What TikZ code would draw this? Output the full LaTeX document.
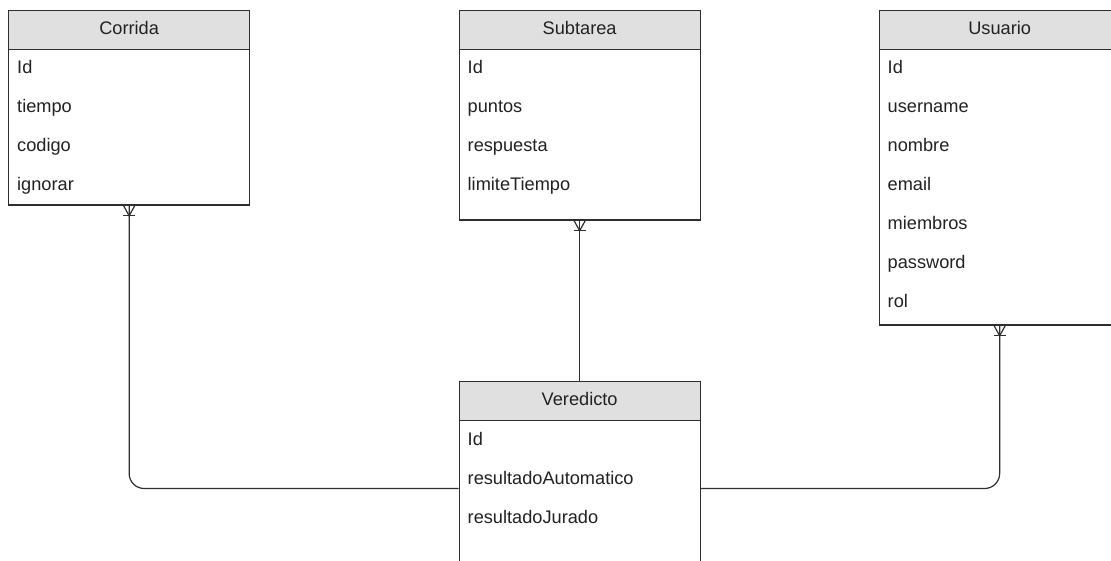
\documentclass[tikz,border=0pt]{standalone}
\usepackage{fontspec}
\setmainfont{Liberation Sans}
\usetikzlibrary{calc}
\definecolor{ink}{HTML}{2E2E2E}
\definecolor{headfill}{HTML}{E0E0E0}
\definecolor{txt}{HTML}{222222}
\newcommand\entfont{\fontsize{18.2}{21}\selectfont}
% crow's foot (one-to-many) just below an entity's bottom edge
\newcommand\crowfoot[1]{%
  \draw[ink, line width=1.2pt] ($(#1)+(-5.5,0)$) -- ($(#1)+(0,10)$) -- ($(#1)+(5.5,0)$);
  \draw[ink, line width=1.2pt] ($(#1)+(-6,10)$) -- ($(#1)+(6,10)$);}
\begin{document}
\begin{tikzpicture}[x=1pt,y=-1pt,
  body/.style={draw=ink, line width=1.3pt, fill=white, inner sep=0pt,
    anchor=north west, minimum width=241pt},
  head/.style={draw=ink, line width=1.3pt, fill=headfill, inner sep=0pt,
    anchor=north west, minimum width=241pt, minimum height=39pt},
  title/.style={font=\entfont, text=txt, anchor=base, inner sep=0pt},
  attr/.style={font=\entfont, text=txt, anchor=base west, inner sep=0pt},
  link/.style={draw=ink, line width=1.2pt, rounded corners=15pt}]
\useasboundingbox (0,0) rectangle (1111,561);
\clip (0,0) rectangle (1111,561);

% Corrida
\node[body, minimum height=194.5pt] (corrida) at (8,10) {};
\node[head] (corridaH) at (8,10) {};
\node[title] (corridaT) at ($(corridaH.north)+(0,24.5)$) {Corrida};
\foreach \a [count=\i] in {Id,tiempo,codigo,ignorar}
  \node[attr] (corrida-\i) at ($(corrida.north west)+(9,64+39*\i-39)$) {\a};

% Subtarea
\node[body, minimum height=209.5pt] (subtarea) at (458.5,10) {};
\node[head] (subtareaH) at (458.5,10) {};
\node[title] (subtareaT) at ($(subtareaH.north)+(0,24.5)$) {Subtarea};
\foreach \a [count=\i] in {Id,puntos,respuesta,limiteTiempo}
  \node[attr] (subtarea-\i) at ($(subtarea.north west)+(9,64+39*\i-39)$) {\a};

% Usuario
\node[body, minimum height=314.5pt] (usuario) at (878.5,10) {};
\node[head] (usuarioH) at (878.5,10) {};
\node[title] (usuarioT) at ($(usuarioH.north)+(0,24.5)$) {Usuario};
\foreach \a [count=\i] in {Id,username,nombre,email,miembros,password,rol}
  \node[attr] (usuario-\i) at ($(usuario.north west)+(9,64+39*\i-39)$) {\a};

% Veredicto
\node[body, minimum height=220pt] (veredicto) at (458.5,381) {};
\node[head] (veredictoH) at (458.5,381) {};
\node[title] (veredictoT) at ($(veredictoH.north)+(0,24.5)$) {Veredicto};
\foreach \a [count=\i] in {Id,resultadoAutomatico,resultadoJurado}
  \node[attr] (veredicto-\i) at ($(veredicto.north west)+(9,64+39*\i-39)$) {\a};

% relationships
\coordinate (vl) at ($(veredicto.north west)+(0,107.5)$);
\coordinate (vr) at ($(veredicto.north east)+(0,107.5)$);
\draw[link] (corrida.south) |- (vl);
\draw[link] (subtarea.south) -- (veredictoH.north);
\draw[link] (usuario.south) |- (vr);
\crowfoot{corrida.south}
\crowfoot{subtarea.south}
\crowfoot{usuario.south}
\end{tikzpicture}
\end{document}
